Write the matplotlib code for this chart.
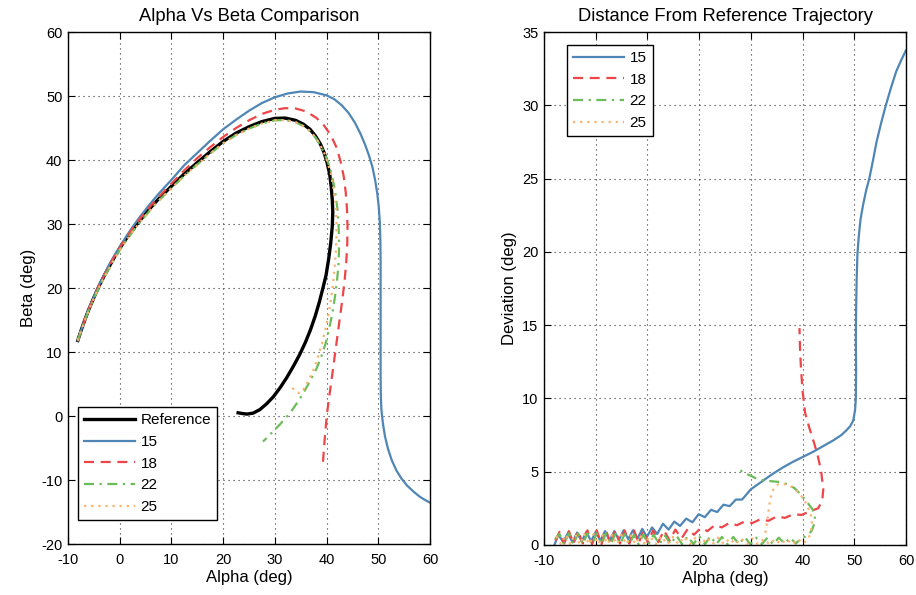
import matplotlib
matplotlib.use("Agg")
import matplotlib.pyplot as plt

plt.rcParams['font.family'] = ['Liberation Sans', 'DejaVu Sans']
plt.rcParams['font.size'] = 11
plt.rcParams['axes.unicode_minus'] = False

# ---------------- data: left panel (alpha vs beta) ----------------
ref_alpha = [-8.1, -7.5, -6.8, -6.0, -5.0, -4.0, -3.0, -2.0, -1.0, 0.0, 1.25, 2.5, 3.75, 5.0,
             6.25, 7.5, 8.75, 10.0, 12.5, 15.0, 17.5, 20.0, 22.5, 25.0, 27.5, 30.0, 32.0, 34.0,
             35.5, 36.8, 37.9, 38.8, 39.5, 40.1, 40.6, 40.9, 41.1, 41.2, 41.1, 40.8, 40.4, 39.9,
             39.3, 38.6, 37.8, 36.9, 35.9, 34.8, 33.6, 32.3, 31.0, 29.7, 28.4, 27.1, 25.8, 24.6,
             23.6, 22.9]
ref_beta = [11.8, 13.3, 14.9, 16.6, 18.5, 20.3, 21.9, 23.4, 24.85, 26.2, 27.7, 29.1, 30.4, 31.6,
            32.8, 33.9, 34.9, 35.9, 37.85, 39.6, 41.3, 42.9, 44.2, 45.2, 46.0, 46.5, 46.55, 46.2,
            45.6, 44.8, 43.7, 42.5, 41.2, 39.6, 37.8, 35.8, 33.8, 31.8, 29.6, 27.0, 24.5, 22.0,
            20.0, 17.8, 15.6, 13.5, 11.5, 9.6, 7.8, 6.0, 4.4, 3.0, 1.9, 1.0, 0.45, 0.3,
            0.4, 0.5]

a15 = [-8.1, -7.5, -6.8, -6.0, -5.0, -4.0, -3.0, -2.0, -1.0, 0.0, 1.25, 2.5, 3.75, 5.0, 6.25,
       7.5, 8.75, 10.0, 12.5, 15.0, 17.5, 20.0, 22.5, 25.0, 27.5, 30.0, 32.5, 35.0, 37.5, 40.0,
       41.5, 43.0, 44.3, 45.5, 46.5, 47.4, 48.2, 48.9, 49.4, 49.8, 50.1, 50.3, 50.4, 50.45,
       50.45, 50.45, 50.45, 50.45, 50.5, 50.6, 50.9, 51.3, 51.9, 52.6, 53.5, 54.5, 55.6, 56.8,
       58.0, 59.2, 60.4]
b15 = [11.8, 13.3, 14.95, 16.7, 18.6, 20.45, 22.1, 23.7, 25.1, 26.45, 28.05, 29.55, 30.95, 32.25,
       33.5, 34.7, 35.8, 36.9, 39.2, 41.1, 43.0, 44.8, 46.3, 47.7, 48.9, 49.8, 50.4, 50.7, 50.6,
       50.1, 49.5, 48.5, 47.3, 45.8, 44.2, 42.5, 40.7, 38.8, 36.8, 34.8, 32.6, 30.2, 27.5, 24.0,
       20.0, 15.0, 10.0, 6.0, 3.0, 1.0, -1.2, -3.2, -5.2, -6.9, -8.5, -9.8, -10.9, -11.8,
       -12.6, -13.2, -13.7]

a18 = [-8.1, -7.5, -6.8, -6.0, -5.0, -4.0, -3.0, -2.0, -1.0, 0.0, 1.25, 2.5, 3.75, 5.0, 6.25,
       7.5, 8.75, 10.0, 12.5, 15.0, 17.5, 20.0, 22.5, 25.0, 27.5, 30.0, 32.0, 34.0, 36.0, 38.0,
       39.5, 40.8, 41.9, 42.7, 43.3, 43.7, 43.95, 44.05, 44.0, 43.8, 43.5, 43.1, 42.6, 42.1,
       41.6, 41.1, 40.6, 40.1, 39.75, 39.5, 39.3]
b18 = [11.8, 13.3, 14.9, 16.65, 18.55, 20.35, 21.95, 23.5, 24.95, 26.3, 27.85, 29.3, 30.65, 31.9,
       33.1, 34.2, 35.25, 36.3, 38.4, 40.3, 42.0, 43.6, 45.0, 46.2, 47.2, 47.85, 48.1, 48.05,
       47.6, 46.6, 45.4, 43.9, 42.0, 39.8, 37.5, 35.0, 32.3, 29.6, 26.8, 24.0, 21.3, 18.5,
       15.5, 12.5, 9.5, 6.5, 3.5, 0.5, -2.5, -5.0, -7.3]

a22 = [-8.1, -7.5, -6.8, -6.0, -5.0, -4.0, -3.0, -2.0, -1.0, 0.0, 1.25, 2.5, 3.75, 5.0, 6.25,
       7.5, 8.75, 10.0, 12.5, 15.0, 17.5, 20.0, 22.5, 25.0, 27.5, 30.0, 32.0, 34.0, 35.5, 36.8,
       37.9, 38.8, 39.6, 40.3, 40.9, 41.4, 41.8, 42.1, 42.3, 42.4, 42.4, 42.3, 42.0, 41.6, 41.1,
       40.5, 39.8, 38.9, 38.0, 36.9, 35.8, 34.6, 33.4, 32.2, 31.0, 29.8, 28.7, 27.7]
b22 = [11.8, 13.25, 14.8, 16.5, 18.35, 20.1, 21.65, 23.15, 24.55, 25.9, 27.4, 28.8, 30.1, 31.3,
       32.5, 33.6, 34.6, 35.6, 37.55, 39.3, 41.0, 42.6, 43.9, 44.9, 45.7, 46.2, 46.25, 45.9,
       45.3, 44.5, 43.5, 42.3, 41.0, 39.6, 38.0, 36.2, 34.3, 32.3, 30.2, 28.0, 25.8, 23.6, 21.0,
       18.5, 16.0, 13.6, 11.3, 9.1, 7.3, 5.6, 4.0, 2.4, 1.0, -0.2, -1.3, -2.3, -3.2, -4.0]

a25 = [-8.1, -7.5, -6.8, -6.0, -5.0, -4.0, -3.0, -2.0, -1.0, 0.0, 1.25, 2.5, 3.75, 5.0, 6.25,
       7.5, 8.75, 10.0, 12.5, 15.0, 17.5, 20.0, 22.5, 25.0, 27.5, 30.0, 32.0, 34.0, 35.5, 36.8,
       37.9, 38.8, 39.6, 40.2, 40.8, 41.2, 41.6, 41.8, 41.9, 41.9, 41.8, 41.6, 41.3, 40.9, 40.4,
       39.8, 39.1, 38.3, 37.5, 36.6, 35.8, 35.2, 34.5, 33.9, 33.5, 33.2]
b25 = [11.8, 13.25, 14.8, 16.5, 18.35, 20.1, 21.65, 23.15, 24.55, 25.9, 27.4, 28.8, 30.1, 31.3,
       32.5, 33.6, 34.6, 35.6, 37.55, 39.3, 41.0, 42.6, 43.9, 44.9, 45.7, 46.2, 46.25, 45.9,
       45.3, 44.5, 43.5, 42.3, 41.0, 39.6, 38.0, 36.2, 34.3, 32.3, 30.2, 28.0, 25.8, 23.6, 21.0,
       18.5, 16.0, 13.6, 11.3, 9.1, 7.3, 5.7, 4.5, 3.7, 3.6, 3.9, 4.3, 4.7]

# ---------------- data: right panel (deviation vs alpha) ----------------
d15_alpha = [-8.0, -7.2, -6.3, -5.4, -4.5, -3.6, -2.7, -1.8, -0.9, 0.0, 0.9, 1.8, 2.7, 3.6, 4.5,
             5.4, 6.3, 7.2, 8.1, 9.0, 9.9, 10.9, 11.9, 13.0, 14.1, 15.2, 16.3, 17.5, 18.7, 19.9,
             21.1, 22.3, 23.5, 24.7, 25.9, 27.1, 28.3, 30.0, 32.0, 34.0, 36.0, 38.0, 40.0, 42.0,
             44.0, 46.0, 47.5, 48.4, 49.2, 49.8, 50.15, 50.3, 50.35, 50.3, 50.35, 50.45, 50.6,
             50.85, 51.2, 51.7, 52.3, 52.9, 53.6, 54.3, 55.2, 56.1, 57.1, 58.1, 59.1, 60.0]
d15 = [0.0, 0.7, 0.2, 0.8, 0.2, 0.85, 0.25, 0.9, 0.25, 0.9, 0.3, 0.95, 0.3, 0.95, 0.35,
       1.0, 0.4, 1.0, 0.45, 1.1, 0.55, 1.2, 0.75, 1.45, 1.05, 1.6, 1.3, 1.8, 1.55, 2.1,
       1.9, 2.4, 2.25, 2.75, 2.65, 3.1, 3.1, 3.8, 4.3, 4.8, 5.25, 5.65, 6.0, 6.35,
       6.75, 7.15, 7.5, 7.8, 8.1, 8.5, 9.2, 10.0, 12.0, 14.0, 16.0, 18.0, 19.8,
       21.0, 22.2, 23.2, 24.2, 25.0, 26.2, 27.5, 28.8, 30.0, 31.2, 32.3, 33.1, 33.75]

d18_alpha = [-7.8, -7.0, -6.1, -5.2, -4.3, -3.4, -2.5, -1.6, -0.7, 0.2, 1.1, 2.0, 2.9, 3.8, 4.7,
             5.6, 6.5, 7.4, 8.3, 9.2, 10.1, 11.1, 12.1, 13.2, 14.3, 15.4, 16.6, 17.8, 19.0, 20.3,
             21.6, 23.0, 24.4, 25.8, 27.3, 28.8, 30.3, 31.8, 33.4, 35.0, 36.6, 38.2, 39.8, 41.4,
             43.0, 43.8, 44.0, 43.6, 43.0, 42.2, 41.3, 40.5, 40.0, 39.7, 39.5, 39.4]
d18 = [0.3, 0.9, 0.1, 0.95, 0.1, 0.95, 0.1, 1.0, 0.05, 1.0, 0.05, 1.0, 0.05, 1.0, 0.1,
       1.0, 0.1, 1.0, 0.1, 1.0, 0.15, 1.0, 0.2, 1.0, 0.3, 1.05, 0.45, 1.1, 0.7, 1.15,
       0.95, 1.35, 1.2, 1.5, 1.35, 1.6, 1.5, 1.75, 1.65, 1.95, 1.85, 2.1, 2.05, 2.3,
       2.5, 3.0, 3.8, 5.0, 6.0, 7.0, 8.0, 9.0, 10.5, 12.0, 13.5, 14.8]

d22_alpha = [-7.9, -7.0, -6.1, -5.2, -4.3, -3.4, -2.5, -1.6, -0.7, 0.2, 1.1, 2.0, 2.9, 3.8, 4.7,
             5.6, 6.5, 7.4, 8.3, 9.2, 10.2, 11.2, 12.3, 13.4, 14.5, 15.6, 16.7, 17.8, 18.9, 20.0,
             21.1, 22.2, 23.3, 24.4, 25.5, 26.6, 27.7, 28.8, 29.9, 31.0, 32.1, 33.2, 34.3, 35.4,
             36.5, 37.6, 38.7, 39.8, 40.9, 41.8, 42.3, 42.4, 41.8, 40.8, 39.6, 38.5, 37.0, 35.5,
             34.0, 32.5, 31.0, 29.8, 28.6, 27.5]
d22 = [0.4, 0.75, 0.05, 0.8, 0.05, 0.8, 0.05, 0.8, 0.05, 0.8, 0.05, 0.8, 0.05, 0.75, 0.05,
       0.75, 0.05, 0.7, 0.05, 0.7, 0.05, 0.7, 0.05, 0.65, 0.05, 0.65, 0.05, 0.6, 0.05, 0.6,
       0.05, 0.6, 0.05, 0.55, 0.05, 0.55, 0.05, 0.55, 0.05, 0.5, 0.05, 0.5, 0.05, 0.5,
       0.1, 0.5, 0.1, 0.5, 0.6, 1.0, 1.5, 2.05, 2.5, 2.95, 3.45, 3.87, 4.15, 4.3,
       4.35, 4.4, 4.55, 4.75, 4.95, 5.2]

d25_alpha = [-7.6, -6.7, -5.8, -4.9, -4.0, -3.1, -2.2, -1.3, -0.4, 0.5, 1.4, 2.3, 3.2, 4.1, 5.0,
             5.9, 6.8, 7.7, 8.6, 9.5, 10.5, 11.6, 12.7, 13.8, 14.9, 16.0, 17.1, 18.2, 19.3, 20.4,
             21.5, 22.6, 23.7, 24.8, 25.9, 27.0, 28.1, 29.2, 30.3, 31.4, 32.5, 33.6, 34.7, 35.8,
             36.9, 38.0, 39.1, 40.2, 41.2, 41.6, 41.8, 41.6, 41.1, 40.3, 39.2, 38.0, 36.5, 35.3,
             34.5, 34.0, 33.6, 33.3, 33.0, 32.8]
d25 = [0.6, 0.05, 0.7, 0.05, 0.75, 0.05, 0.75, 0.05, 0.75, 0.05, 0.7, 0.05, 0.7, 0.05, 0.7,
       0.05, 0.65, 0.05, 0.65, 0.05, 0.6, 0.05, 0.6, 0.05, 0.55, 0.05, 0.55, 0.05, 0.5, 0.05,
       0.5, 0.05, 0.5, 0.05, 0.45, 0.05, 0.45, 0.05, 0.45, 0.05, 0.4, 0.05, 0.4, 0.05,
       0.4, 0.05, 0.4, 0.1, 0.5, 0.9, 1.5, 2.1, 2.5, 3.1, 3.6, 3.95, 4.15, 4.15,
       3.9, 3.5, 2.8, 2.0, 1.2, 0.8]

labels = ['15', '18', '22', '25']
colors = ['#4f86b6', '#ee4548', '#6cbd5a', '#fdb26d']
styles = ['-', (0, (4.5, 3)), (0, (4.5, 2.5, 1, 2.5)), (0, (1, 2.2))]

fig = plt.figure(figsize=(9.16, 5.95), dpi=100)
axL = fig.add_axes([68 / 916, 1 - 544 / 595, 362 / 916, 512 / 595])
axR = fig.add_axes([544 / 916, 1 - 545 / 595, 362 / 916, 513 / 595])

axL.plot(ref_alpha, ref_beta, color='black', lw=2.4, label='Reference',
         solid_joinstyle='round')
for (xa, yb), lab, c, ls in zip([(a15, b15), (a18, b18), (a22, b22), (a25, b25)], labels, colors, styles):
    axL.plot(xa, yb, color=c, ls=ls, lw=1.6, label=lab, solid_joinstyle='round',
             dash_joinstyle='round')

for (xa, yd), lab, c, ls in zip([(d15_alpha, d15), (d18_alpha, d18), (d22_alpha, d22), (d25_alpha, d25)],
                                labels, colors, styles):
    axR.plot(xa, yd, color=c, ls=ls, lw=1.6, label=lab, solid_joinstyle='round',
             dash_joinstyle='round')

axL.set_xlim(-10, 60)
axL.set_ylim(-20, 60)
axL.set_xticks(range(-10, 61, 10))
axL.set_yticks(range(-20, 61, 10))
axR.set_xlim(-10, 60)
axR.set_ylim(0, 35)
axR.set_xticks(range(-10, 61, 10))
axR.set_yticks(range(0, 36, 5))

axL.set_title('Alpha Vs Beta Comparison', fontsize=13.2, pad=8)
axL.set_xlabel('Alpha (deg)', fontsize=12, labelpad=2)
axL.set_ylabel('Beta (deg)', fontsize=12, labelpad=4)
axR.set_title('Distance From Reference Trajectory', fontsize=13.2, pad=8)
axR.set_xlabel('Alpha (deg)', fontsize=12, labelpad=2)
axR.set_ylabel('Deviation (deg)', fontsize=12, labelpad=4)

for ax in (axL, axR):
    ax.grid(True, ls=(0, (1, 3.5)), color='#333333', lw=0.8)
    ax.tick_params(direction='in', top=True, right=True, length=5, width=0.8,
                   labelsize=10.5, pad=4)
    ax.tick_params(axis='x', pad=6.5)
    for s in ax.spines.values():
        s.set_linewidth(1.0)
        s.set_color('black')

legL = axL.legend(loc='lower left', bbox_to_anchor=(10 / 362, 24 / 512), borderaxespad=0,
                  fancybox=False, edgecolor='black', framealpha=1, fontsize=11,
                  handlelength=3.3, borderpad=0.4, labelspacing=0.5, handletextpad=0.4)
legL.get_frame().set_linewidth(1.0)
legR = axR.legend(loc='upper left', bbox_to_anchor=(23 / 362, 1 - 13 / 513), borderaxespad=0,
                  fancybox=False, edgecolor='black', framealpha=1, fontsize=11,
                  handlelength=3.3, borderpad=0.4, labelspacing=0.5, handletextpad=0.4)
legR.get_frame().set_linewidth(1.0)

fig.savefig('out.png', dpi=100)
